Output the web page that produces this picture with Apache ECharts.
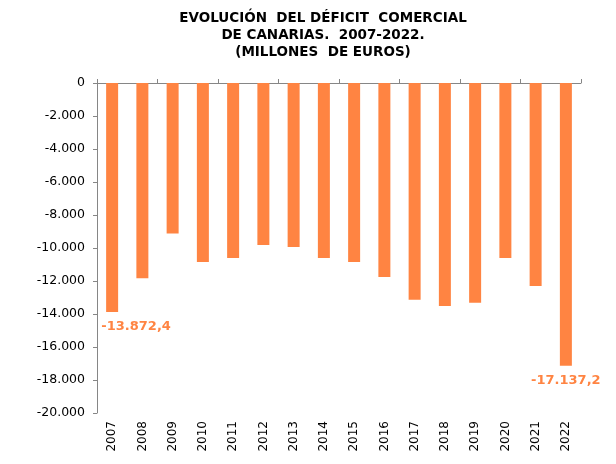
<!DOCTYPE html>
<html>
<head>
<meta charset="utf-8">
<script src="https://cdn.jsdelivr.net/npm/echarts@6/dist/echarts.min.js"></script>
<style>
html,body{margin:0;padding:0;background:#fff;}
#c{width:616px;height:464px;}
</style>
</head>
<body>
<div id="c"></div>
<script>
const years = ['2007','2008','2009','2010','2011','2012','2013','2014','2015','2016','2017','2018','2019','2020','2021','2022'];
const deficit = [-13872.4, -11840, -9115, -10850, -10610, -9820, -9940, -10610, -10850, -11760, -13130, -13520, -13320, -10610, -12300, -17137.2];
const labeledYears = ['2007', '2022'];
const yTicks = { min: -20000, max: 0, interval: 2000 };

const orange = '#FF8442';
const fmt = v => {
  const neg = v < 0; const a = Math.abs(v);
  const ip = Math.floor(a); const dec = Math.round((a - ip) * 10);
  const s = String(ip).replace(/\B(?=(\d{3})+(?!\d))/g, '.');
  return (neg ? '-' : '') + s + (dec || !Number.isInteger(v) ? ',' + dec : '');
};
const seriesData = deficit.map((v, i) => {
  const item = { value: v };
  if (labeledYears.includes(years[i])) {
    item.label = {
      show: true, position: 'outside', distance: 8,
      offset: i === 0 ? [24, 0] : [0, 0],
      color: orange, fontWeight: 'bold', fontSize: 13,
      fontFamily: 'DejaVu Sans',
      formatter: p => fmt(p.value)
    };
  }
  return item;
});

const chart = echarts.init(document.getElementById('c'), null, { renderer: 'canvas' });
chart.setOption({
  animation: false,
  backgroundColor: '#fff',
  title: {
    text: 'EVOLUCIÓN  DEL DÉFICIT  COMERCIAL\nDE CANARIAS.  2007-2022.\n(MILLONES  DE EUROS)',
    left: 318, top: 5, textAlign: 'center',
    textStyle: { fontFamily: 'DejaVu Sans', fontWeight: 'bold', fontSize: 13.5, lineHeight: 17, color: '#000' }
  },
  grid: { left: 97, top: 83, width: 484, height: 330, containLabel: false },
  xAxis: [
    {
      type: 'category', data: years, position: 'top',
      axisLine: { onZero: false, lineStyle: { color: '#868686', width: 1 } },
      axisTick: { show: true, length: 4, lineStyle: { color: '#868686' } },
      axisLabel: { show: false }
    },
    {
      type: 'category', data: years, position: 'bottom',
      axisLine: { show: false }, axisTick: { show: false },
      axisLabel: { rotate: 90, margin: 8, fontFamily: 'DejaVu Sans', fontSize: 12, color: '#000' }
    }
  ],
  yAxis: {
    type: 'value', min: yTicks.min, max: yTicks.max, interval: yTicks.interval,
    axisLine: { show: true, lineStyle: { color: '#868686' } },
    axisTick: { show: true, length: 4, lineStyle: { color: '#868686' } },
    splitLine: { show: false },
    axisLabel: { margin: 12, fontFamily: 'DejaVu Sans', fontSize: 12.5, color: '#000', formatter: v => fmt(v) }
  },
  series: [{
    type: 'bar', xAxisIndex: 0, data: seriesData, barWidth: 12,
    itemStyle: { color: orange }
  }]
});
</script>
</body>
</html>
